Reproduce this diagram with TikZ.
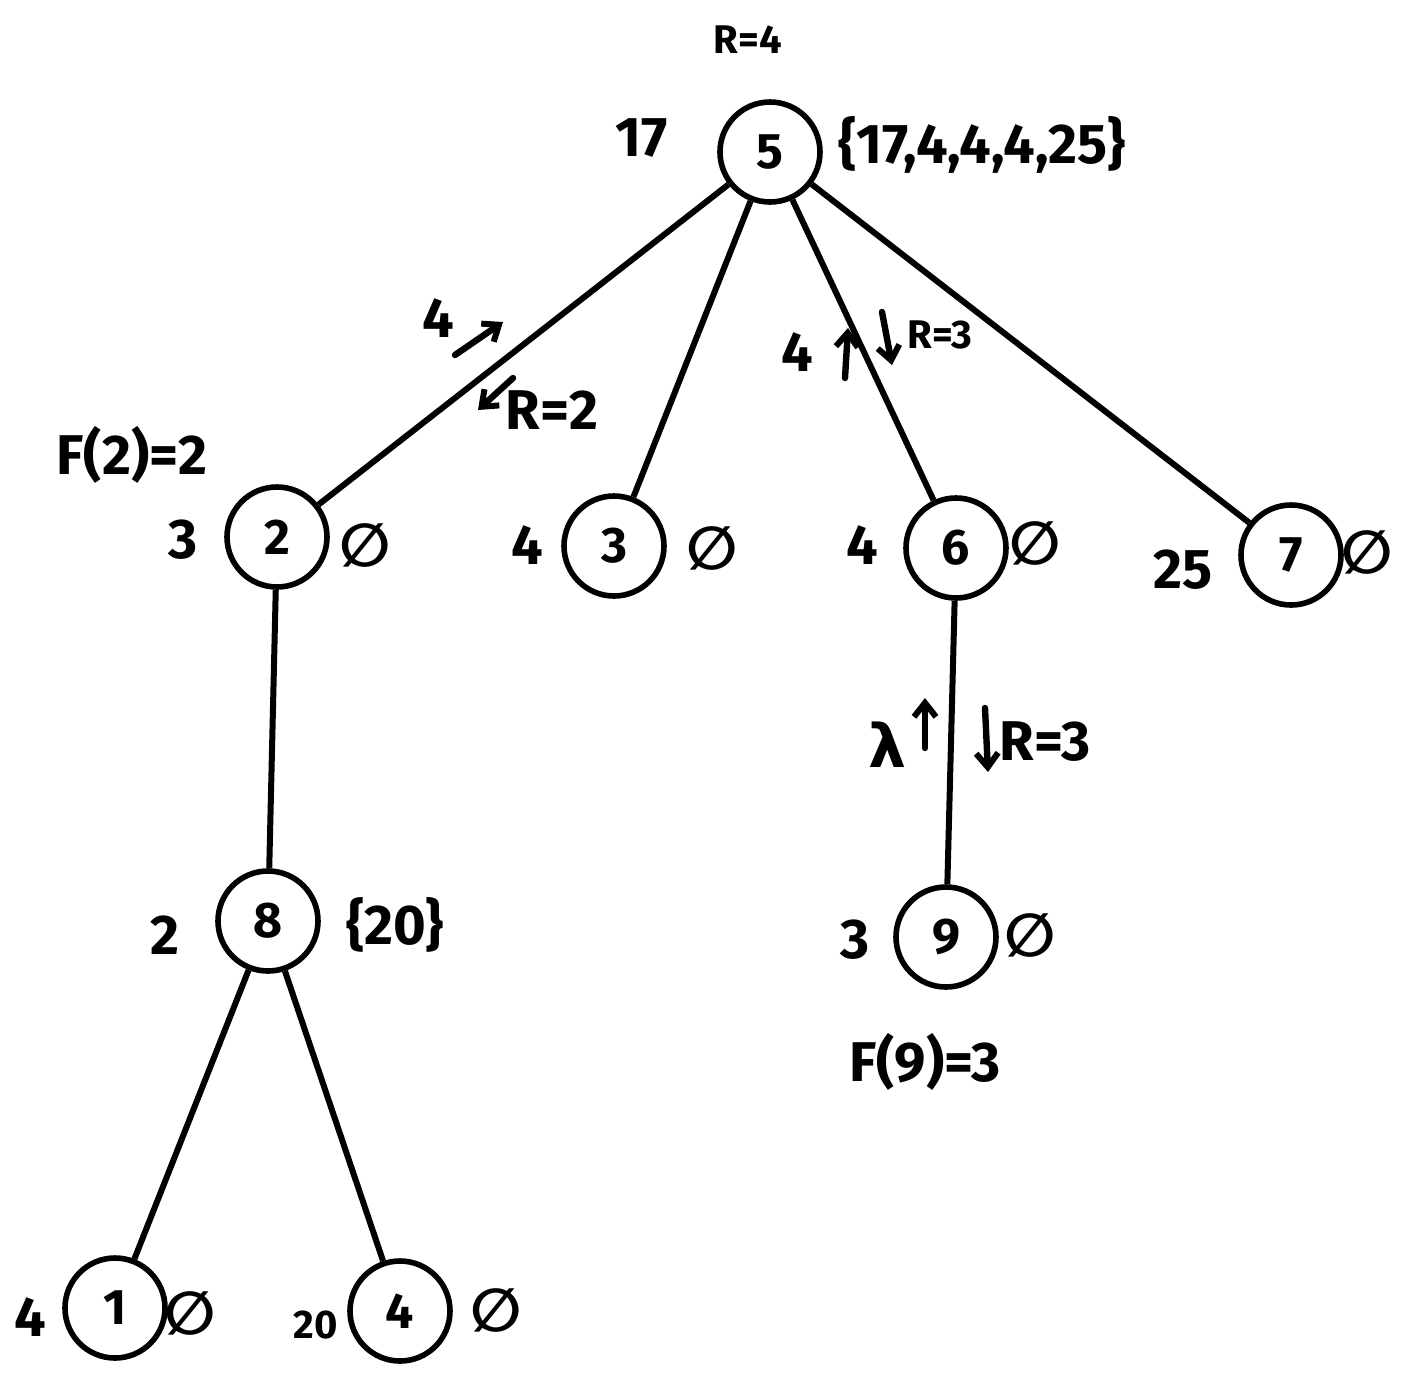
\documentclass[tikz,border=0pt]{standalone}
\usepackage{fontspec}
\setmainfont{Fira Sans}
\newfontfamily\symfnt{DejaVu Sans}
\usetikzlibrary{arrows.meta}
\begin{document}
\begin{tikzpicture}[x=0.5pt,y=-0.5pt,
  vertex/.style={circle,draw,line width=2.8pt,minimum size=50pt,inner sep=0pt,font=\fontsize{25}{27}\selectfont\bfseries},
  lbl/.style={font=\fontsize{28}{30}\selectfont\bfseries,inner sep=0pt},
  sml/.style={font=\fontsize{20}{22}\selectfont\bfseries,inner sep=0pt},
  emp/.style={font=\fontsize{30}{32}\selectfont\symfnt\bfseries,inner sep=0pt},
  edge/.style={line width=3pt},
  arr/.style={line width=3.2pt,line cap=round,-{Straight Barb[length=7pt,width=11pt,line width=3pt]}}
]
\useasboundingbox (0,0) rectangle (1405,1373);
% vertices
\node[vertex] (n5) at (770,152) {5};
\node[vertex] (n2) at (277,537) {2};
\node[vertex] (n3) at (614,546) {3};
\node[vertex] (n6) at (956,548) {6};
\node[vertex] (n7) at (1291,555) {7};
\node[vertex] (n8) at (268,921) {8};
\node[vertex] (n9) at (946,937) {9};
\node[vertex] (n1) at (115,1308) {1};
\node[vertex] (n4) at (400,1311) {4};
% edges
\draw[edge] (n5) -- (n2);
\draw[edge] (n5) -- (n3);
\draw[edge] (n5) -- (n6);
\draw[edge] (n5) -- (n7);
\draw[edge] (n2) -- (n8);
\draw[edge] (n8) -- (n1);
\draw[edge] (n8) -- (n4);
\draw[edge] (n6) -- (n9);
% labels
\node[sml] (r4) at (748,40) {R=4};
\node[lbl] (l17) at (642,138) {17};
\node[lbl] (set5) at (982,145) {\{17,4,4,4,25\}};
\node[lbl] (f2) at (132,455) {F(2)=2};
\node[lbl] (w2) at (183,540) {3};
\node[emp] (e2) at (365,545) {∅};
\node[lbl] (w3) at (527,545) {4};
\node[emp] (e3) at (712,548) {∅};
\node[lbl] (w6) at (862,545) {4};
\node[emp] (e6) at (1035,543) {∅};
\node[lbl] (w7) at (1183,570) {25};
\node[emp] (e7) at (1367,552) {∅};
\node[lbl] (w8) at (165,935) {2};
\node[lbl] (e8) at (395,925) {\{20\}};
\node[lbl] (w9) at (855,940) {3};
\node[emp] (e9) at (1030,935) {∅};
\node[lbl] (f9) at (925,1062) {F(9)=3};
\node[lbl] (w1) at (30,1317) {4};
\node[emp] (e1) at (190,1313) {∅};
\node[sml] (w4) at (316,1325) {20};
\node[emp] (e4) at (496,1310) {∅};
% edge annotations
\node[lbl] (u52) at (438,318) {4};
\coordinate (a1s) at (455,355); \coordinate (a1e) at (503,322);
\draw[arr] (a1s) -- (a1e);
\coordinate (a2s) at (513,378); \coordinate (a2e) at (478,410);
\draw[arr] (a2s) -- (a2e);
\node[lbl] (d52) at (552,410) {R=2};
\node[lbl] (u56) at (797,352) {4};
\coordinate (a3s) at (845,378); \coordinate (a3e) at (848,328);
\draw[arr] (a3s) -- (a3e);
\coordinate (a4s) at (882,312); \coordinate (a4e) at (892,365);
\draw[arr] (a4s) -- (a4e);
\node[sml] (d56) at (940,335) {R=3};
\node[emp] (u69) at (887,745) {λ};
\coordinate (a5s) at (925,748); \coordinate (a5e) at (925,698);
\draw[arr] (a5s) -- (a5e);
\coordinate (a6s) at (985,708); \coordinate (a6e) at (988,772);
\draw[arr] (a6s) -- (a6e);
\node[lbl] (d69) at (1045,742) {R=3};
\end{tikzpicture}
\end{document}
